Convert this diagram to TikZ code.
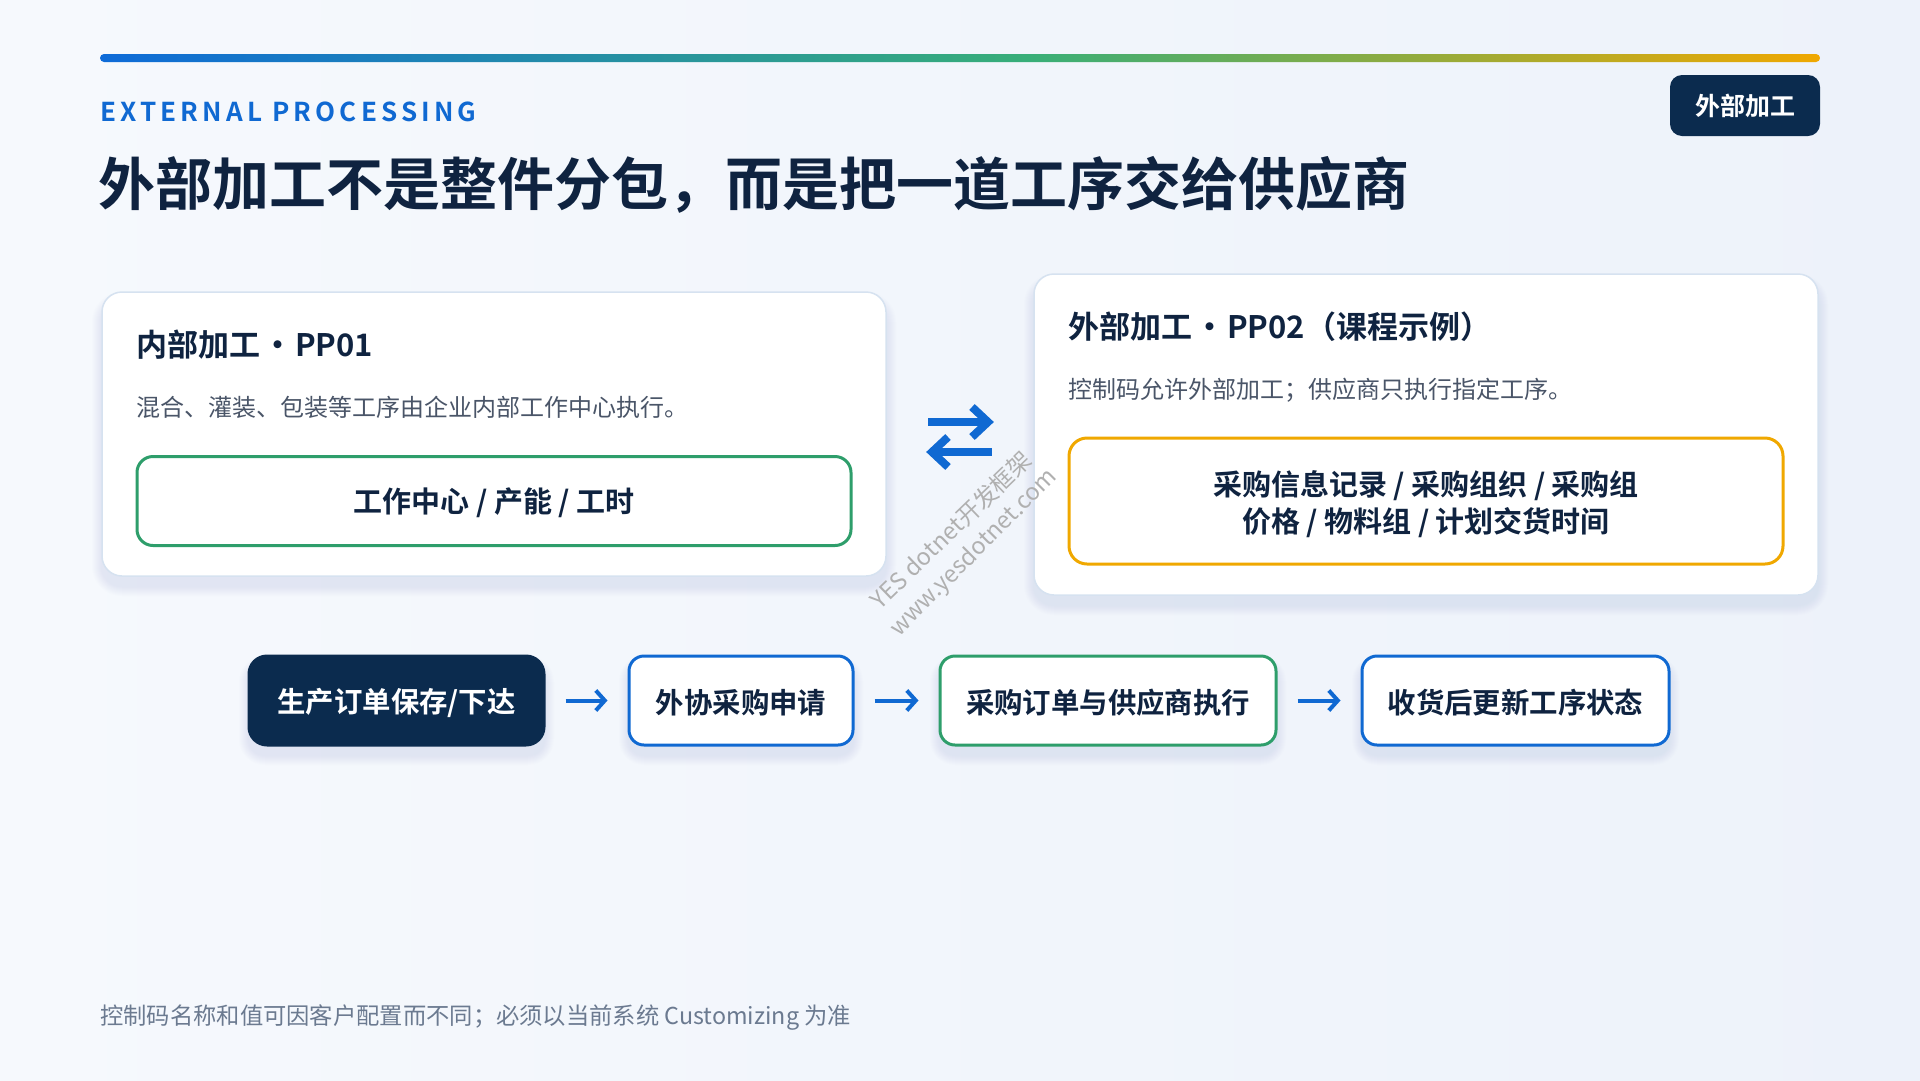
\documentclass[tikz,border=0pt]{standalone}
\usepackage{fontspec}
\setmainfont{Noto Sans CJK SC}[BoldFont={Noto Sans CJK SC Bold}]
\usetikzlibrary{arrows.meta}
\definecolor{navy}{HTML}{0F2340}
\definecolor{badgec}{HTML}{0B2B4E}
\definecolor{accent}{HTML}{1069D2}
\definecolor{barblue}{HTML}{0E6BD8}
\definecolor{greenc}{HTML}{2E9E6B}
\definecolor{bargreen}{HTML}{38AE78}
\definecolor{orangec}{HTML}{F0A800}
\definecolor{descc}{HTML}{4A5568}
\definecolor{footc}{HTML}{6B7A90}
\definecolor{cardb}{HTML}{D6E2F0}
\definecolor{shadowc}{HTML}{9FB4D0}
\definecolor{bgl}{HTML}{F6F9FD}
\definecolor{bgr}{HTML}{EDF2FA}
\definecolor{wmc}{HTML}{B0B0B0}
\pgfdeclarehorizontalshading{barshade}{100bp}{color(0bp)=(barblue); color(25bp)=(barblue); color(52bp)=(bargreen); color(75bp)=(orangec); color(100bp)=(orangec)}
\newcommand\softshadow[5]{\foreach \k in {1,...,10}{\fill[shadowc,opacity=0.018,rounded corners=#5+\k] ({#1-\k},{#2-\k+10}) rectangle ({#3+\k},{#4+\k+10});}}
\newcommand\dotsep{\kern2pt·\kern2pt}
\newcommand\down[2]{\raisebox{-#1}[\height][\depth]{#2}}
\tikzset{
  card/.style={draw=cardb, line width=1.5pt, fill=white, rounded corners=20pt, inner sep=0pt},
  keybox/.style={fill=white, line width=3pt, rounded corners=16pt, inner sep=0pt, align=center, text=navy, font=\bfseries\fontsize{29}{37}\selectfont},
  flowbox/.style={fill=white, draw=accent, line width=3pt, rounded corners=15pt, minimum height=89pt, inner sep=0pt, text=navy, font=\bfseries\fontsize{28.4}{34}\selectfont},
  flowarrow/.style={draw=accent, line width=4pt, -{Straight Barb[length=9pt,width=20pt]}, shorten <=20pt, shorten >=20pt},
  cardtitle/.style={anchor=west, inner sep=0pt, text=navy, font=\bfseries\fontsize{31}{36}\selectfont},
  carddesc/.style={anchor=west, inner sep=0pt, text=descc, font=\fontsize{24}{28}\selectfont},
  wm/.style={text=wmc, inner sep=0pt, font=\fontsize{23.5}{26}\selectfont}
}
\begin{document}
\begin{tikzpicture}[x=1pt,y=-1pt]
\useasboundingbox (0,0) rectangle (1920,1080);
\shade[left color=bgl, right color=bgr] (0,0) rectangle (1920,1080);
% top bar
\shade[shading=barshade, rounded corners=4pt] (100,54) rectangle (1820,62);
% heading
\node[anchor=west, inner sep=0pt, text=accent, font=\bfseries\fontsize{26}{30}\selectfont\addfontfeatures{LetterSpace=16}] (kicker) at (100,112) {EXTERNAL PROCESSING};
\node[anchor=west, inner sep=0pt, text=navy, font=\bfseries\fontsize{57}{70}\selectfont] (title) at (98,185) {外部加工不是整件分包，而是把一道工序交给供应商};
\node[fill=badgec, rounded corners=12pt, minimum width=150pt, minimum height=61pt, inner sep=0pt, text=white, font=\bfseries\fontsize{25}{30}\selectfont] (badge) at (1745,105.5) {外部加工};
% cards
\softshadow{102}{292}{886}{576}{20}
\softshadow{1034}{274}{1818}{595}{20}
\node[card, minimum width=784pt, minimum height=284pt] (lcard) at (494,434) {};
\node[card, minimum width=784pt, minimum height=321pt] (rcard) at (1426,434.5) {};
\node[cardtitle] (lt) at (136,345) {内部加工\dotsep PP01};
\node[carddesc] (ld) at (136,407) {混合、灌装、包装等工序由企业内部工作中心执行。};
\node[keybox, draw=greenc, minimum width=714pt, minimum height=89pt] (lkey) at (494,501) {\down{2pt}{工作中心 / 产能 / 工时}};
\node[cardtitle] (rt) at (1068,327) {外部加工\dotsep PP02（课程示例）};
\node[carddesc] (rd) at (1068,390) {控制码允许外部加工；供应商只执行指定工序。};
\node[keybox, draw=orangec, rounded corners=18pt, minimum width=714pt, minimum height=126pt] (rkey) at (1426,501) {\down{6pt}{\begin{tabular}{@{}c@{}}采购信息记录 / 采购组织 / 采购组\\价格 / 物料组 / 计划交货时间\end{tabular}}};
% exchange symbol
\draw[accent, line width=8pt] (928,422) -- (985,422);
\draw[accent, line width=8pt, line join=miter, miter limit=10] (972,407) -- (988,422) -- (972,437);
\draw[accent, line width=8pt] (935,452) -- (992,452);
\draw[accent, line width=8pt, line join=miter, miter limit=10] (948,437) -- (932,452) -- (948,467);
% flow
\softshadow{249}{656}{544}{745}{16}
\softshadow{629}{656}{853}{745}{15}
\softshadow{940}{656}{1276}{745}{15}
\softshadow{1362}{656}{1669}{745}{15}
\node[flowbox, fill=badgec, draw=badgec, text=white, rounded corners=18pt, minimum width=295pt] (f1) at (396.5,700.5) {\down{2pt}{生产订单保存/下达}};
\node[flowbox, minimum width=224pt] (f2) at (741,700.5) {\down{2pt}{外协采购申请}};
\node[flowbox, draw=greenc, minimum width=336pt] (f3) at (1108,700.5) {\down{2pt}{采购订单与供应商执行}};
\node[flowbox, minimum width=307pt] (f4) at (1515.5,700.5) {\down{2pt}{收货后更新工序状态}};
\draw[flowarrow] (f1.east) -- (f2.west);
\draw[flowarrow] (f2.east) -- (f3.west);
\draw[flowarrow] (f3.east) -- (f4.west);
% footer
\node[anchor=west, inner sep=0pt, text=footc, font=\fontsize{23.3}{28}\selectfont] (foot) at (100,1018) {控制码名称和值可因客户配置而不同；必须以当前系统 Customizing 为准};
% watermark
\node[wm, rotate=44] (wm1) at (951,530) {YES dotnet开发框架};
\node[wm, rotate=45] (wm2) at (974,553) {www.yesdotnet.com};
\end{tikzpicture}
\end{document}
